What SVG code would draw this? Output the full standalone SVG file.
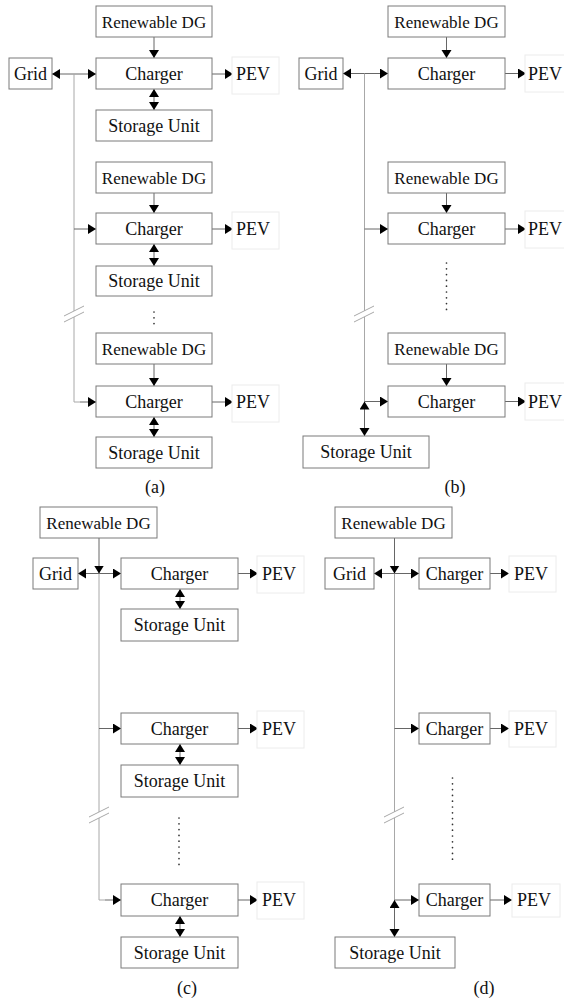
<svg xmlns="http://www.w3.org/2000/svg" width="564" height="998" viewBox="0 0 564 998">
<defs>
<marker id="ah" markerUnits="userSpaceOnUse" markerWidth="9" markerHeight="11" refX="8" refY="5" orient="auto-start-reverse" viewBox="0 0 9 11">
<path d="M0,0 L8,5 L0,10 z" fill="#000"/>
</marker>
<style>
rect.b{fill:#fff;stroke:#7a7a7a;stroke-width:1}
rect.p{fill:#fff;stroke:#ececec;stroke-width:1}
text{font-family:Liberation Serif,DejaVu Serif,serif;font-size:18px;fill:#111;text-anchor:middle}
text.dg{font-size:17px}
.c line,.c path{stroke:#666;stroke-width:1;fill:none}
.c .bus{stroke:#a8a8a8}
.c .dot{stroke:#333;stroke-width:1.7;stroke-linecap:round;stroke-dasharray:0 5.8}
.c .ar{marker-end:url(#ah)}
.c .bi{marker-start:url(#ah);marker-end:url(#ah)}
</style>
</defs>
<rect width="564" height="998" fill="#fff"/>

<!-- ===== Panel (a) ===== -->
<g id="a-connectors" class="c">
<line class="ar" x1="154" y1="37" x2="154" y2="58"/>
<line class="bi" x1="52" y1="74" x2="96" y2="74"/>
<line class="ar" x1="212" y1="74" x2="233" y2="74"/>
<line class="bi" x1="154" y1="89" x2="154" y2="110"/>
<line class="bus" x1="74" y1="74" x2="74" y2="311"/>
<path class="bus" d="M74,317 V402 H80"/>
<line class="ar" x1="74" y1="229" x2="96" y2="229"/>
<line class="ar" x1="80" y1="402" x2="96" y2="402"/>
<line class="ar" x1="154" y1="193" x2="154" y2="213"/>
<line class="ar" x1="212" y1="229" x2="233" y2="229"/>
<line class="bi" x1="154" y1="244" x2="154" y2="266"/>
<line class="ar" x1="154" y1="364" x2="154" y2="386"/>
<line class="ar" x1="212" y1="402" x2="233" y2="402"/>
<line class="bi" x1="154" y1="417" x2="154" y2="437"/>
<line class="bus" x1="64" y1="316" x2="84" y2="306"/>
<line class="bus" x1="64" y1="322" x2="84" y2="312"/>
<line class="dot" x1="154" y1="312" x2="154" y2="324"/>
</g>
<g id="a-grid"><rect class="b" x="9" y="58" width="43" height="31"/><text x="30.5" y="80">Grid</text></g>
<g id="a-dg1"><rect class="b" x="96" y="6" width="116" height="31"/><text class="dg" x="154" y="28">Renewable DG</text></g>
<g id="a-ch1"><rect class="b" x="96" y="58" width="116" height="31"/><text x="154" y="80">Charger</text></g>
<g id="a-pev1"><rect class="p" x="232" y="57" width="47" height="37"/><text x="253" y="80">PEV</text></g>
<g id="a-su1"><rect class="b" x="96" y="110" width="116" height="31"/><text x="154" y="132">Storage Unit</text></g>
<g id="a-dg2"><rect class="b" x="96" y="162" width="116" height="31"/><text class="dg" x="154" y="184">Renewable DG</text></g>
<g id="a-ch2"><rect class="b" x="96" y="213" width="116" height="31"/><text x="154" y="235">Charger</text></g>
<g id="a-pev2"><rect class="p" x="232" y="212" width="47" height="37"/><text x="253" y="235">PEV</text></g>
<g id="a-su2"><rect class="b" x="96" y="266" width="116" height="30"/><text x="154" y="287">Storage Unit</text></g>
<g id="a-dg3"><rect class="b" x="96" y="333" width="116" height="31"/><text class="dg" x="154" y="355">Renewable DG</text></g>
<g id="a-ch3"><rect class="b" x="96" y="386" width="116" height="31"/><text x="154" y="408">Charger</text></g>
<g id="a-pev3"><rect class="p" x="232" y="385" width="47" height="37"/><text x="253" y="408">PEV</text></g>
<g id="a-su3"><rect class="b" x="96" y="437" width="116" height="31"/><text x="154" y="459">Storage Unit</text></g>
<text x="155" y="493">(a)</text>

<!-- ===== Panel (b) ===== -->
<g id="b-connectors" class="c">
<line class="ar" x1="446.5" y1="37" x2="446.5" y2="58"/>
<line class="bi" x1="343" y1="73.5" x2="388" y2="73.5"/>
<line class="ar" x1="505" y1="73.5" x2="526" y2="73.5"/>
<line class="bus" x1="364.5" y1="73.5" x2="364.5" y2="311"/>
<line class="bus" x1="364.5" y1="317" x2="364.5" y2="401.5"/>
<line class="ar" x1="364.5" y1="229" x2="388" y2="229"/>
<line class="ar" x1="446.5" y1="193" x2="446.5" y2="213"/>
<line class="ar" x1="505" y1="229" x2="526" y2="229"/>
<line class="ar" x1="446.5" y1="364" x2="446.5" y2="386"/>
<line class="ar" x1="364.5" y1="401.5" x2="388" y2="401.5"/>
<line class="ar" x1="505" y1="401.5" x2="526" y2="401.5"/>
<line class="bi" x1="364.5" y1="401.5" x2="364.5" y2="436"/>
<line class="bus" x1="354" y1="316" x2="374" y2="306"/>
<line class="bus" x1="354" y1="322" x2="374" y2="312"/>
<line class="dot" x1="446.5" y1="263" x2="446.5" y2="312"/>
</g>
<g id="b-grid"><rect class="b" x="299" y="58" width="44" height="31"/><text x="321" y="80">Grid</text></g>
<g id="b-dg1"><rect class="b" x="388" y="6" width="117" height="31"/><text class="dg" x="446.5" y="28">Renewable DG</text></g>
<g id="b-ch1"><rect class="b" x="388" y="58" width="117" height="31"/><text x="446.5" y="80">Charger</text></g>
<g id="b-pev1"><rect class="p" x="525" y="55" width="47" height="37"/><text x="545" y="80">PEV</text></g>
<g id="b-dg2"><rect class="b" x="388" y="162" width="117" height="31"/><text class="dg" x="446.5" y="184">Renewable DG</text></g>
<g id="b-ch2"><rect class="b" x="388" y="213" width="117" height="31"/><text x="446.5" y="235">Charger</text></g>
<g id="b-pev2"><rect class="p" x="525" y="211" width="47" height="37"/><text x="545" y="235">PEV</text></g>
<g id="b-dg3"><rect class="b" x="388" y="333" width="117" height="31"/><text class="dg" x="446.5" y="355">Renewable DG</text></g>
<g id="b-ch3"><rect class="b" x="388" y="386" width="117" height="31"/><text x="446.5" y="408">Charger</text></g>
<g id="b-pev3"><rect class="p" x="525" y="383" width="47" height="37"/><text x="545" y="408">PEV</text></g>
<g id="b-su"><rect class="b" x="303" y="436" width="126" height="32"/><text x="366" y="458">Storage Unit</text></g>
<text x="455" y="493">(b)</text>

<!-- ===== Panel (c) ===== -->
<g id="c-connectors" class="c">
<line class="ar" x1="99" y1="538" x2="99" y2="573.5"/>
<line class="bus" x1="99" y1="573.5" x2="99" y2="812"/>
<path class="bus" d="M99,818 V900 H105"/>
<line class="bi" x1="78" y1="573.5" x2="121" y2="573.5"/>
<line class="ar" x1="238" y1="573.5" x2="258" y2="573.5"/>
<line class="bi" x1="180" y1="589" x2="180" y2="609"/>
<line class="ar" x1="99" y1="728.5" x2="121" y2="728.5"/>
<line class="ar" x1="238" y1="728.5" x2="258" y2="728.5"/>
<line class="bi" x1="180" y1="744" x2="180" y2="765"/>
<line class="ar" x1="105" y1="900" x2="121" y2="900"/>
<line class="ar" x1="238" y1="900" x2="258" y2="900"/>
<line class="bi" x1="180" y1="916" x2="180" y2="937"/>
<line class="bus" x1="89" y1="817" x2="109" y2="807"/>
<line class="bus" x1="89" y1="823" x2="109" y2="813"/>
<line class="dot" x1="179" y1="818" x2="179" y2="869"/>
</g>
<g id="c-dg"><rect class="b" x="40" y="507" width="117" height="31"/><text class="dg" x="98.5" y="529">Renewable DG</text></g>
<g id="c-grid"><rect class="b" x="33" y="558" width="45" height="31"/><text x="55.5" y="580">Grid</text></g>
<g id="c-ch1"><rect class="b" x="121" y="558" width="117" height="31"/><text x="179.5" y="580">Charger</text></g>
<g id="c-pev1"><rect class="p" x="257" y="556" width="47" height="37"/><text x="279" y="580">PEV</text></g>
<g id="c-su1"><rect class="b" x="121" y="609" width="117" height="32"/><text x="179.5" y="631">Storage Unit</text></g>
<g id="c-ch2"><rect class="b" x="121" y="713" width="117" height="31"/><text x="179.5" y="735">Charger</text></g>
<g id="c-pev2"><rect class="p" x="257" y="711" width="47" height="37"/><text x="279" y="735">PEV</text></g>
<g id="c-su2"><rect class="b" x="121" y="765" width="117" height="32"/><text x="179.5" y="787">Storage Unit</text></g>
<g id="c-ch3"><rect class="b" x="121" y="884" width="117" height="32"/><text x="179.5" y="906">Charger</text></g>
<g id="c-pev3"><rect class="p" x="257" y="882" width="47" height="37"/><text x="279" y="906">PEV</text></g>
<g id="c-su3"><rect class="b" x="121" y="937" width="117" height="31"/><text x="179.5" y="959">Storage Unit</text></g>
<text x="187" y="994">(c)</text>

<!-- ===== Panel (d) ===== -->
<g id="d-connectors" class="c">
<line class="ar" x1="394.5" y1="538" x2="394.5" y2="573.5"/>
<line class="bus" x1="394.5" y1="573.5" x2="394.5" y2="812"/>
<line class="bus" x1="394.5" y1="818" x2="394.5" y2="900"/>
<line class="bi" x1="374" y1="573.5" x2="419" y2="573.5"/>
<line class="ar" x1="490" y1="573.5" x2="509" y2="573.5"/>
<line class="ar" x1="394.5" y1="728.5" x2="419" y2="728.5"/>
<line class="ar" x1="490" y1="728.5" x2="509" y2="728.5"/>
<line class="ar" x1="394.5" y1="900" x2="419" y2="900"/>
<line class="ar" x1="490" y1="900" x2="512" y2="900"/>
<line class="bi" x1="394.5" y1="900" x2="394.5" y2="937"/>
<line class="bus" x1="384" y1="817" x2="404" y2="807"/>
<line class="bus" x1="384" y1="823" x2="404" y2="813"/>
<line class="dot" x1="452.5" y1="778" x2="452.5" y2="862"/>
</g>
<g id="d-dg"><rect class="b" x="335" y="507" width="117" height="31"/><text class="dg" x="393.5" y="529">Renewable DG</text></g>
<g id="d-grid"><rect class="b" x="325" y="558" width="49" height="31"/><text x="349.5" y="580">Grid</text></g>
<g id="d-ch1"><rect class="b" x="419" y="558" width="71" height="31"/><text x="454.5" y="580">Charger</text></g>
<g id="d-pev1"><rect class="p" x="509" y="556" width="47" height="36"/><text x="531" y="580">PEV</text></g>
<g id="d-ch2"><rect class="b" x="419" y="713" width="71" height="31"/><text x="454.5" y="735">Charger</text></g>
<g id="d-pev2"><rect class="p" x="509" y="711" width="47" height="36"/><text x="531" y="735">PEV</text></g>
<g id="d-ch3"><rect class="b" x="419" y="884" width="71" height="32"/><text x="454.5" y="906">Charger</text></g>
<g id="d-pev3"><rect class="p" x="512" y="884" width="48" height="33"/><text x="534" y="906">PEV</text></g>
<g id="d-su"><rect class="b" x="335" y="937" width="120" height="31"/><text x="395" y="959">Storage Unit</text></g>
<text x="484" y="994">(d)</text>
</svg>
